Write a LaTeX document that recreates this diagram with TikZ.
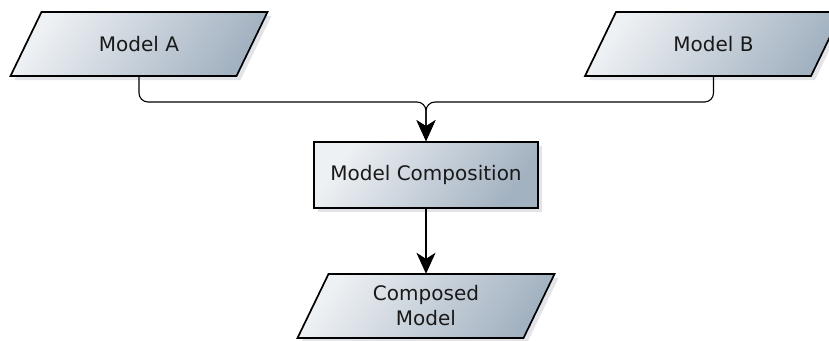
\documentclass[tikz,border=0pt]{standalone}
\usepackage{fontspec}
\setmainfont{DejaVu Sans}
\usetikzlibrary{shadows,arrows.meta}
\definecolor{shlight}{HTML}{EEF1F4}
\definecolor{shdark}{HTML}{A3B2C1}
\definecolor{shadowgray}{HTML}{E2E4E8}
\tikzset{
  x=1pt,y=1pt,
  boxfill/.style={top color=shlight, bottom color=shdark, shading angle=55},
  boxline/.style={draw=black, line width=1.7pt},
  pgramtext/.style={rectangle, minimum width=195pt, minimum height=64pt, inner sep=0pt,
    align=center, text=black!90, font=\fontsize{20}{25}\selectfont},
  procbox/.style={rectangle, minimum width=224pt, minimum height=66pt, inner sep=0pt,
    boxline, boxfill, text=black!90,
    drop shadow={shadow xshift=4pt,shadow yshift=-4pt,fill=shadowgray,opacity=1},
    font=\fontsize{20}{25}\selectfont},
  conn/.style={draw=black, line width=1.1pt, rounded corners=9pt,
    -{Stealth[length=21pt,width=19pt,inset=6pt]}}
}
\newcommand\pgramshape[2]{%
  \fill[shadowgray, shift={(#1+4,#2-4)}] (-128.5,-32) -- (97.5,-32) -- (128.5,32) -- (-97.5,32) -- cycle;
  \shade[boxfill, shift={(#1,#2)}] (-128.5,-32) -- (97.5,-32) -- (128.5,32) -- (-97.5,32) -- cycle;
  \draw[boxline, line join=miter, shift={(#1,#2)}] (-128.5,-32) -- (97.5,-32) -- (128.5,32) -- (-97.5,32) -- cycle;
}
\begin{document}
\begin{tikzpicture}
\useasboundingbox (0,0) rectangle (829,-340);
\clip (0,0) rectangle (829,-340);
\pgramshape{139}{-44}
\pgramshape{713.5}{-44}
\pgramshape{426}{-306}
\node[pgramtext] (A) at (139,-44) {Model A};
\node[pgramtext] (B) at (713.5,-44) {Model B};
\node[procbox] (C) at (426,-175) {Model Composition};
\node[pgramtext] (D) at (426,-306) {Composed\\Model};
\coordinate (j) at (426,-102);
\draw[conn] (A.south) |- (j) -- (C.north);
\draw[conn] (B.south) |- (j) -- (C.north);
\draw[conn] (C.south) -- (D.north);
\end{tikzpicture}
\end{document}
